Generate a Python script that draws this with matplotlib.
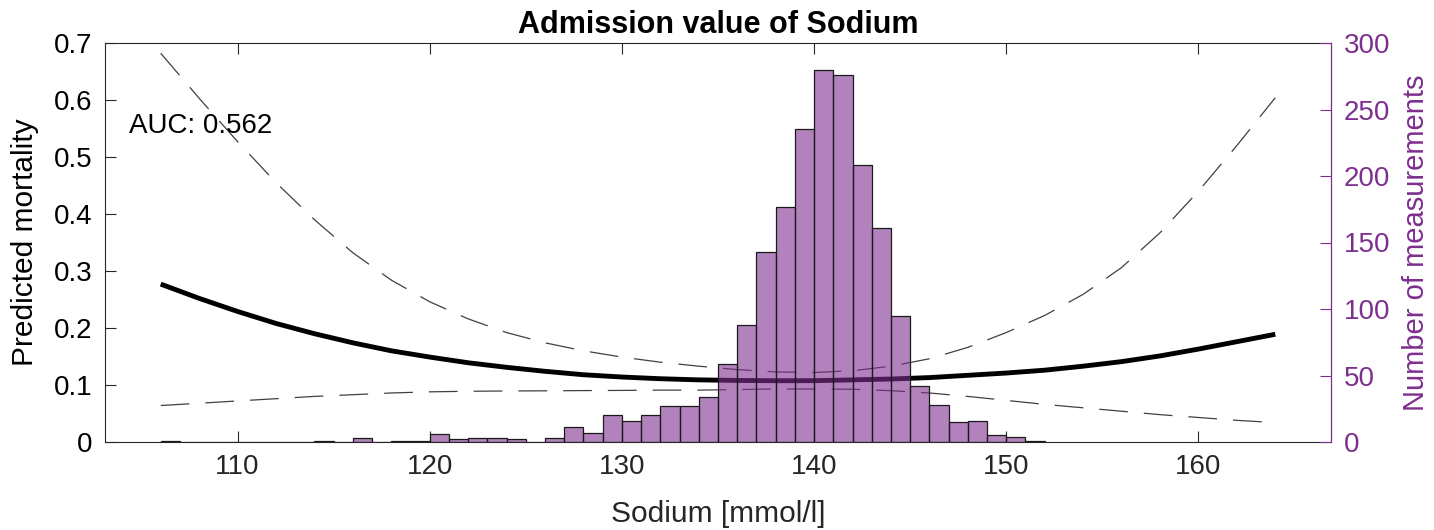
import matplotlib
matplotlib.use("Agg")
import matplotlib.pyplot as plt
import numpy as np

plt.rcParams['font.family'] = ['Liberation Sans', 'DejaVu Sans']

# ---- data ----
sodium = [106, 108, 110, 112, 114, 116, 118, 120, 122, 124, 126, 128, 130, 132, 134,
          136, 138, 140, 142, 144, 146, 148, 150, 152, 154, 156, 158, 160, 162, 164]
mortality = [0.277, 0.252, 0.229, 0.208, 0.190, 0.174, 0.160, 0.149, 0.139, 0.131,
             0.124, 0.118, 0.114, 0.111, 0.109, 0.108, 0.1075, 0.1076, 0.109, 0.1105,
             0.113, 0.117, 0.121, 0.126, 0.133, 0.141, 0.151, 0.163, 0.176, 0.189]
ci_upper = [0.682, 0.603, 0.527, 0.455, 0.390, 0.332, 0.284, 0.246, 0.216, 0.192,
            0.174, 0.160, 0.149, 0.140, 0.133, 0.127, 0.123, 0.122, 0.125, 0.133,
            0.146, 0.166, 0.192, 0.222, 0.259, 0.306, 0.367, 0.440, 0.520, 0.604]
ci_lower = [0.064, 0.068, 0.072, 0.076, 0.080, 0.083, 0.086, 0.088, 0.089, 0.0895,
            0.0898, 0.0902, 0.0905, 0.091, 0.091, 0.092, 0.093, 0.093, 0.0925, 0.090,
            0.086, 0.080, 0.073, 0.066, 0.060, 0.054, 0.048, 0.0430, 0.038, 0.034]

bin_left = list(range(106, 152))
counts = [1, 0, 0, 0, 0, 0, 0, 0, 1, 0, 3, 0, 1, 1, 6, 2, 3, 3, 2, 0,
          3, 11, 7, 20, 16, 20, 27, 27, 34, 59, 88, 143, 177, 235, 280, 276,
          208, 161, 95, 42, 28, 15, 16, 5, 4, 1]

xticks = [110, 120, 130, 140, 150, 160]
yticks_left = [0, 0.1, 0.2, 0.3, 0.4, 0.5, 0.6, 0.7]
ytick_labels_left = ['0', '0.1', '0.2', '0.3', '0.4', '0.5', '0.6', '0.7']
yticks_right = [0, 50, 100, 150, 200, 250, 300]

auc_text = "AUC: 0.562"

purple = '#7E2F8E'
bar_face = (0.494, 0.184, 0.556, 0.6)
axcol = '#262626'

fig = plt.figure(figsize=(14.34, 5.30), dpi=100)
ax = fig.add_axes([105/1434, 1 - 442/530, (1331 - 105)/1434, (442 - 43)/530])

ax.plot(sodium, mortality, color='black', lw=3.5, solid_capstyle='butt', zorder=3)
ax.plot(sodium, ci_upper, color='#404040', lw=0.9, dashes=(23, 12.8), zorder=3)
ax.plot(sodium, ci_lower, color='#404040', lw=0.9, dashes=(23, 12.8), zorder=3)

ax.set_xlim(103.1, 166.9)
ax.set_ylim(0, 0.7)
ax.set_xticks(xticks)
ax.set_yticks(yticks_left)
ax.set_yticklabels(ytick_labels_left)
ax.tick_params(axis='both', direction='in', length=8, width=0.8, color=axcol,
               labelsize=20, labelcolor='black', top=True, right=False, pad=9)
ax.tick_params(axis='x', labelcolor='#262626', pad=9)
for s in ['left', 'bottom', 'top']:
    ax.spines[s].set_color(axcol)
    ax.spines[s].set_linewidth(0.8)
ax.spines['right'].set_visible(False)

ax.set_xlabel('Sodium [mmol/l]', fontsize=21.5, color='#262626', labelpad=14)
ax.set_ylabel('Predicted mortality', fontsize=21.5, color='black', labelpad=11)
ax.set_title('Admission value of Sodium', fontsize=22, fontweight='bold', pad=7)

ax.text(104.36, 0.554, auc_text, fontsize=20, ha='left', va='center', zorder=4)

ax2 = ax.twinx()
ax2.bar(bin_left, counts, width=1, align='edge', color=bar_face,
        edgecolor='#1a1a1a', linewidth=0.9, zorder=2)
ax2.set_ylim(0, 300)
ax2.set_yticks(yticks_right)
ax2.tick_params(axis='y', direction='in', length=8, width=0.8, color=purple,
                labelsize=20, labelcolor=purple, pad=9)
for s in ['left', 'bottom', 'top']:
    ax2.spines[s].set_visible(False)
ax2.spines['right'].set_color(purple)
ax2.spines['right'].set_linewidth(0.9)
ax2.set_ylabel('Number of measurements', fontsize=21, color=purple, labelpad=9)

fig.savefig('out.png', dpi=100)
